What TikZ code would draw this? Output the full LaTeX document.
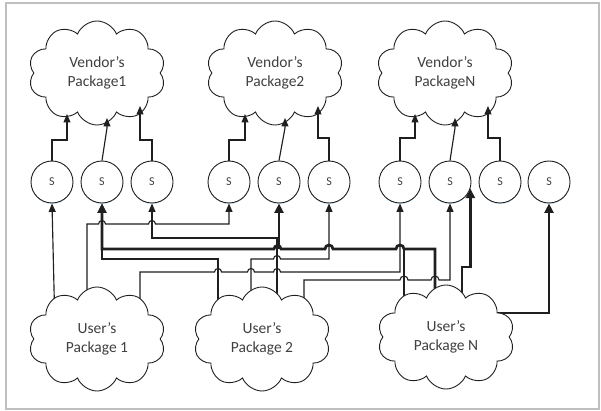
\documentclass[tikz,border=0pt]{standalone}
\usepackage{fontspec}
\setmainfont{Carlito}
\usetikzlibrary{shapes.symbols,arrows.meta,backgrounds,calc,shadows}

\begin{document}
\begin{tikzpicture}[x=1pt,y=-1pt,
  ink/.style={draw=black!88},
  thinw/.style={ink, line width=1.15pt},
  thickw/.style={ink, line width=2.7pt},
  arr/.style={-{Triangle[length=8.5pt,width=7pt]}},
  arrbig/.style={-{Triangle[length=9.5pt,width=9pt]}},
  pkg/.style={cloud, cloud puffs=10, cloud puff arc=135, cloud ignores aspect,
    minimum width=137pt, minimum height=104pt, draw=black!88, line width=0.9pt,
    fill=white, inner sep=0pt, align=center,
    font=\fontsize{15.5}{18.5}\selectfont, text=black!75},
  sw/.style={circle, minimum size=42pt, inner sep=0pt, draw=black!88,
    line width=0.9pt, fill=white, font=\fontsize{12}{14}\selectfont, text=black!75,
    drop shadow={shadow xshift=0pt, shadow yshift=-1pt, fill=blue!40!cyan, opacity=0.18}}
]
\useasboundingbox (0,0) rectangle (601,411);
\draw[draw=black!25, line width=1.2pt] (6,3) rectangle (599,409);

% vendor packages
\node[pkg] (v1) at (97,73)  {Vendor’s\\Package1};
\node[pkg] (v2) at (275,73) {Vendor’s\\Package2};
\node[pkg] (v3) at (445,73) {Vendor’s\\PackageN};

% user packages
\node[pkg] (u1) at (97,339)  {User’s\\Package 1};
\node[pkg] (u2) at (262,339) {User’s\\Package 2};
\node[pkg] (u3) at (446,337) {User’s\\Package N};

% switches
\foreach \i/\x in {1/52,2/102,3/152,4/229,5/279,6/329,7/400,8/450,9/500,10/549}
  \node[sw] (s\i) at (\x,182) {S};

% arrow targets on the vendor clouds
\foreach \v in {1,2,3}{
  \coordinate (v\v a) at ($(v\v.center)+(-30,41)$);
  \coordinate (v\v b) at ($(v\v.center)+(10,45)$);
  \coordinate (v\v c) at ($(v\v.center)+(43,33)$);
}

% attachment points inside the user clouds
\coordinate (u1a) at (55,330);
\coordinate (u1b) at (87,330);
\coordinate (u1c) at (140,330);
\coordinate (u2a) at (218,330);
\coordinate (u2b) at (251,330);
\coordinate (u2c) at (277,330);
\coordinate (u2d) at (304,330);
\coordinate (u3a) at (404,330);
\coordinate (u3b) at (435,330);
\coordinate (u3c) at (462,330);
\coordinate (u3d) at (446,313);
\coordinate (j5) at (279,249);

% switches up to the vendor packages
\draw[thinw,arr] (s1.north) |- (v1a |- 0,140) -- (v1a);
\draw[thinw,arr] (s2.north) -- (v1b |- 0,128) -- (v1b);
\draw[thinw,arr] (s3.north) |- (v1c |- 0,140) -- (v1c);
\draw[thinw,arr] (s4.north) |- (v2a |- 0,140) -- (v2a);
\draw[thinw,arr] (s5.north) -- (v2b |- 0,128) -- (v2b);
\draw[thinw,arr] (s6.north) |- (v2c |- 0,138) -- (v2c);
\draw[thinw,arr] (s7.north) |- (v3a |- 0,138) -- (v3a);
\draw[thinw,arr] (s8.north) -- (v3b |- 0,128) -- (v3b);
\draw[thinw,arr] (s9.north) |- (v3c |- 0,138) -- (v3c);

\begin{pgfonlayer}{background}
% user package 1
\draw[thinw,arr] (u1a) -- (s1.south);
\draw[thinw,arr] (u1b) |- (98.5,224) arc[start angle=180,end angle=0,radius=3.5pt]
  -- (148.5,224) arc[start angle=180,end angle=0,radius=3.5pt]
  -- (s4.south |- 0,224) -- (s4.south);
\draw[thinw,arr] (u1c) |- (214.5,272) arc[start angle=180,end angle=0,radius=3.5pt]
  -- (247.5,272) arc[start angle=180,end angle=0,radius=3.5pt]
  -- (273.5,272) arc[start angle=180,end angle=0,radius=3.5pt]
  -- (s7.south |- 0,272) -- (s7.south);
% user package 2
\draw[thinw,arr] (u2a) |- (s2.south |- 0,259) -- (s2.south);
\draw[thinw,arr] (u2b) |- (273.5,259) arc[start angle=180,end angle=0,radius=3.5pt]
  -- (s6.south |- 0,259) -- (s6.south);
\draw[thinw,arr] (u2c) |- (s3.south |- 0,238) -- (s3.south);
\draw[thinw,arr] (u2d) |- (400,280) arc[start angle=180,end angle=0,radius=4pt]
  -- (431,280) arc[start angle=180,end angle=0,radius=4pt]
  -- (s8.south |- 0,280) -- (s8.south);
% user package N
\draw[thickw,arrbig] (u3b) |- (404,249) arc[start angle=0,end angle=180,radius=4pt]
  -- (333,249) arc[start angle=0,end angle=180,radius=4pt]
  -- (281,249) arc[start angle=0,end angle=180,radius=3.5pt]
  -- (s2.south |- 0,249) -- (s2.south);
\draw[thickw] (u3a) -- (u3a |- 0,249);
\draw[thickw,arrbig] (j5) -- (s5.south);
\draw[thickw,arrbig] (u3c) |- (s8.-18 |- 0,267) -- (s8.-18);
\draw[thickw,arrbig] (u3d) -| (s10.south);
\end{pgfonlayer}
\end{tikzpicture}
\end{document}
